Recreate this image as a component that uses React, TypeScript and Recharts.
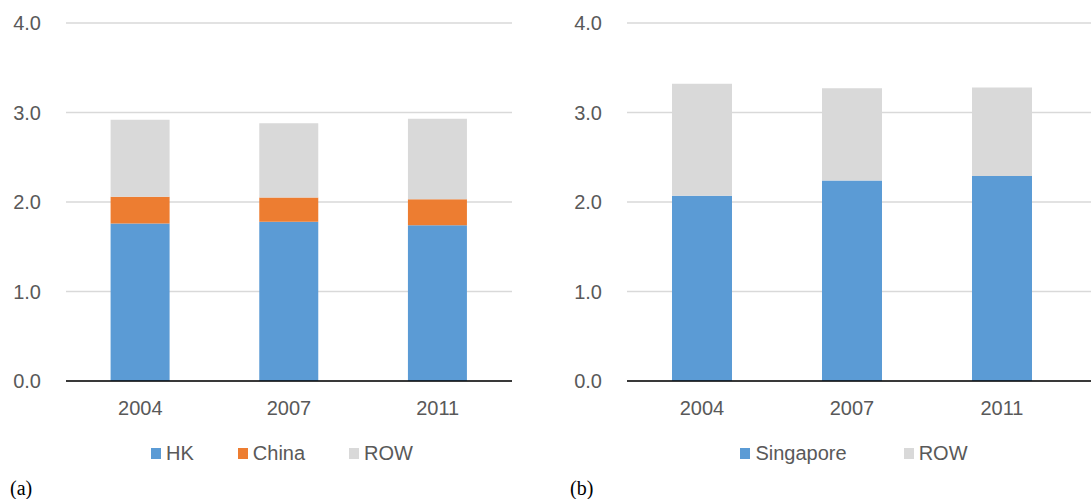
import { BarChart, Bar, XAxis, YAxis, CartesianGrid, Legend } from 'recharts';

// years on the x axis (same for both panels)
const years = ['2004', '2007', '2011'];

// panel (a): HK / China / ROW, stacked
const hkValues = [1.76, 1.78, 1.74];
const chinaValues = [0.30, 0.27, 0.29];
const rowValuesA = [0.86, 0.83, 0.90];
const seriesA = ['HK', 'China', 'ROW'];

// panel (b): Singapore / ROW, stacked
const singaporeValues = [2.07, 2.24, 2.29];
const rowValuesB = [1.25, 1.03, 0.99];
const seriesB = ['Singapore', 'ROW'];

const yTicks = [0, 1, 2, 3, 4];

const BLUE = '#5B9BD5';
const ORANGE = '#ED7D31';
const GREY = '#D9D9D9';
const TEXT = '#595959';
const FONT = '"Liberation Sans", Arial, sans-serif';

const dataA = years.map((year, i) => ({
  year,
  HK: hkValues[i],
  China: chinaValues[i],
  ROW: rowValuesA[i],
}));

const dataB = years.map((year, i) => ({
  year,
  Singapore: singaporeValues[i],
  ROW: rowValuesB[i],
}));

// legend drawn from the payload, kept in the series order instead of alphabetical
const makeLegend = (order: string[], gap: number, shift: number) => (props: any) => {
  const items = [...(props.payload || [])].sort(
    (a: any, b: any) => order.indexOf(a.value) - order.indexOf(b.value)
  );
  return (
    <div
      style={{
        display: 'flex',
        justifyContent: 'center',
        height: 24,
        lineHeight: '24px',
        paddingLeft: shift,
        fontFamily: FONT,
        fontSize: 20,
        color: TEXT,
      }}
    >
      {items.map((item: any, i: number) => (
        <div
          key={item.value}
          style={{ display: 'flex', alignItems: 'center', marginLeft: i === 0 ? 0 : gap }}
        >
          <span
            style={{ width: 10, height: 11, background: item.color, marginRight: 5, display: 'inline-block' }}
          />
          <span>{item.value}</span>
        </div>
      ))}
    </div>
  );
};

const tickStyle = { fill: TEXT, fontSize: 20, fontFamily: FONT };

const PanelLabel = ({ text, left }: { text: string; left: number }) => (
  <div
    style={{
      position: 'absolute',
      left,
      top: 478,
      fontFamily: '"Liberation Serif", "Times New Roman", serif',
      fontSize: 20,
      lineHeight: '20px',
      color: '#000',
    }}
  >
    {text}
  </div>
);

const App = () => {
  return (
    <div style={{ position: 'absolute', left: 0, top: 0, width: 1091, height: 499, background: '#fff' }}>
      <div style={{ position: 'absolute', left: 0, top: 0 }}>
        <BarChart
          width={545}
          height={499}
          data={dataA}
          margin={{ top: 23, right: 33, bottom: 34, left: 0 }}
          barCategoryGap="30%"
        >
          <CartesianGrid vertical={false} stroke={GREY} strokeWidth={1.3} />
          <XAxis
            dataKey="year"
            tick={tickStyle}
            tickLine={false}
            tickSize={0}
            tickMargin={20}
            height={60}
            axisLine={{ stroke: '#000', strokeWidth: 1.5 }}
          />
          <YAxis
            domain={[0, 4]}
            ticks={yTicks}
            tickFormatter={(v: number) => v.toFixed(1)}
            tick={tickStyle}
            tickLine={false}
            axisLine={false}
            tickSize={0}
            tickMargin={25}
            width={66}
          />
          <Legend verticalAlign="bottom" content={makeLegend(seriesA, 44, 52)} />
          <Bar dataKey="HK" stackId="a" fill={BLUE} isAnimationActive={false} />
          <Bar dataKey="China" stackId="a" fill={ORANGE} isAnimationActive={false} />
          <Bar dataKey="ROW" stackId="a" fill={GREY} isAnimationActive={false} />
        </BarChart>
      </div>
      <div style={{ position: 'absolute', left: 545, top: 0 }}>
        <BarChart
          width={546}
          height={499}
          data={dataB}
          margin={{ top: 23, right: 0, bottom: 34, left: 0 }}
          barCategoryGap="30%"
        >
          <CartesianGrid vertical={false} stroke={GREY} strokeWidth={1.3} />
          <XAxis
            dataKey="year"
            tick={tickStyle}
            tickLine={false}
            tickSize={0}
            tickMargin={20}
            height={60}
            padding={{ left: 0, right: 14 }}
            axisLine={{ stroke: '#000', strokeWidth: 1.5 }}
          />
          <YAxis
            domain={[0, 4]}
            ticks={yTicks}
            tickFormatter={(v: number) => v.toFixed(1)}
            tick={tickStyle}
            tickLine={false}
            axisLine={false}
            tickSize={0}
            tickMargin={25}
            width={82}
          />
          <Legend verticalAlign="bottom" content={makeLegend(seriesB, 57, 72)} />
          <Bar dataKey="Singapore" stackId="b" fill={BLUE} isAnimationActive={false} />
          <Bar dataKey="ROW" stackId="b" fill={GREY} isAnimationActive={false} />
        </BarChart>
      </div>
      <PanelLabel text="(a)" left={10} />
      <PanelLabel text="(b)" left={570} />
    </div>
  );
};

export default App;
